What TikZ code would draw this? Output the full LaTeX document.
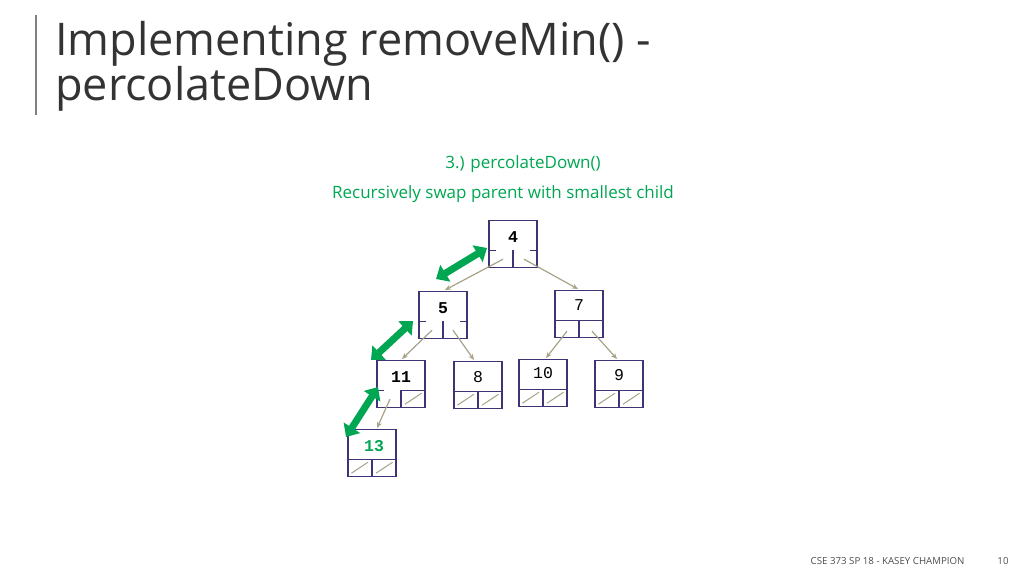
\documentclass[tikz,border=0pt]{standalone}
\usepackage{fontspec}
\setmainfont{Open Sans}
\setmonofont{Liberation Mono}
\usetikzlibrary{arrows.meta,calc}
\definecolor{grn}{HTML}{00A651}
\definecolor{tan}{HTML}{A8A288}
\definecolor{pur}{HTML}{3F3275}
\tikzset{
 hbox/.style={draw=pur,line width=1.2pt,minimum width=48pt,minimum height=47pt,inner sep=0pt},
 lnk/.style={tan,line width=1.2pt,-{Stealth[length=6pt,width=5pt]}},
 swap/.style={grn,line width=7pt,{Triangle[length=11pt,width=19pt]}-{Triangle[length=11pt,width=19pt]}},
 num/.style={font=\ttfamily\fontsize{16.5}{16.5}\selectfont},
 bnum/.style={font=\ttfamily\bfseries\fontsize{16.5}{16.5}\selectfont},
 part/.style={pur,line width=1.2pt},
}
\begin{document}
\begin{tikzpicture}[x=1pt,y=-1pt]
\useasboundingbox (0,0) rectangle (1024,576);
\draw[gray,line width=1.2pt] (36,15) -- (36,115);
\node[anchor=base west,font=\fontsize{45}{45}\selectfont,text=black!80,inner sep=0] (t1) at (55,55) {Implementing removeMin() -};
\node[anchor=base west,font=\fontsize{45}{45}\selectfont,text=black!80,inner sep=0] (t2) at (55,100) {percolateDown};
\node[grn,font=\fontsize{17}{17}\selectfont] (s1) at (523,164) {3.) percolateDown()};
\node[grn,font=\fontsize{17}{17}\selectfont] (s2) at (503,194) {Recursively swap parent with smallest child};
\node[anchor=base east,font=\fontsize{9.7}{9.7}\selectfont,text=black!70] (f1) at (968,564) {CSE 373 SP 18 - KASEY CHAMPION};
\node[anchor=base,font=\fontsize{9.7}{9.7}\selectfont,text=black!70] (f2) at (1003,564) {10};

\foreach \n/\x/\y in {a/513/220,b/443/291,c/579/290,d/401/360,e/478/361,f/543/359,g/619/360,h/372/429}{
 \node[hbox,anchor=north] (\n) at (\x,\y) {};
}
\foreach \n in {a,b}{
 \draw[part] ($(\n.south west)+(0,-18)$) -- +(8,0);
 \draw[part] ($(\n.south east)+(0,-18)$) -- +(-8,0);
 \draw[part] ($(\n.south)+(0,-18)$) -- (\n.south);
}
\draw[part] ($(d.south west)+(0,-18)$) -- +(8,0);
\draw[part] ($(d.south)+(0,-18)$) -- ($(d.south east)+(0,-18)$);
\draw[part] ($(d.south)+(0,-18)$) -- (d.south);
\draw[tan,line width=1pt] ($(d.south)+(4,-4)$) -- ($(d.south east)+(-4,-15)$);
\draw[part] ($(c.south west)+(0,-18)$) -- ($(c.south east)+(0,-18)$);
\draw[part] ($(c.south)+(0,-18)$) -- (c.south);
\foreach \n in {e,f,g,h}{
 \draw[part] ($(\n.south west)+(0,-18)$) -- ($(\n.south east)+(0,-18)$);
 \draw[part] ($(\n.south)+(0,-18)$) -- (\n.south);
 \draw[tan,line width=1pt] ($(\n.south west)+(4,-4)$) -- ($(\n.south)+(-4,-15)$);
 \draw[tan,line width=1pt] ($(\n.south)+(4,-4)$) -- ($(\n.south east)+(-4,-15)$);
}
\node[bnum] at ($(a.north)+(0,17)$) {4};
\node[bnum] at ($(b.north)+(0,17)$) {5};
\node[num] at ($(c.north)+(0,15)$) {7};
\node[bnum] at ($(d.north)+(0,17)$) {11};
\node[num] at ($(e.north)+(0,16)$) {8};
\node[num] at ($(f.north)+(0,14)$) {10};
\node[num] at ($(g.north)+(0,15)$) {9};
\node[bnum,text=grn] at ($(h.north)+(2,17)$) {13};
\draw[lnk] ($(a.south)+(-10,-9)$) -- ($(b.north)+(2,-1)$);
\draw[lnk] ($(a.south)+(11,-9)$) -- ($(c.north)+(-1,-1)$);
\draw[lnk] ($(b.south)+(-11,-9)$) -- ($(d.north)+(1,-1)$);
\draw[lnk] ($(b.south)+(10,-9)$) -- ($(e.north)+(-4,-1)$);
\draw[lnk] ($(c.south)+(-12,-7)$) -- ($(f.north)+(3,-1)$);
\draw[lnk] ($(c.south)+(13,-7)$) -- ($(g.north)+(-2,-1)$);
\draw[lnk] ($(d.south)+(-11,-9)$) -- ($(h.north)+(5,-1)$);
\coordinate (s1a) at (436,279); \coordinate (s1b) at (487,248);
\coordinate (s2a) at (371,360); \coordinate (s2b) at (413,321);
\coordinate (s3a) at (346,437); \coordinate (s3b) at (378,387);
\draw[swap] (s1a) -- (s1b);
\draw[swap] (s2a) -- (s2b);
\draw[swap] (s3a) -- (s3b);
\end{tikzpicture}
\end{document}
